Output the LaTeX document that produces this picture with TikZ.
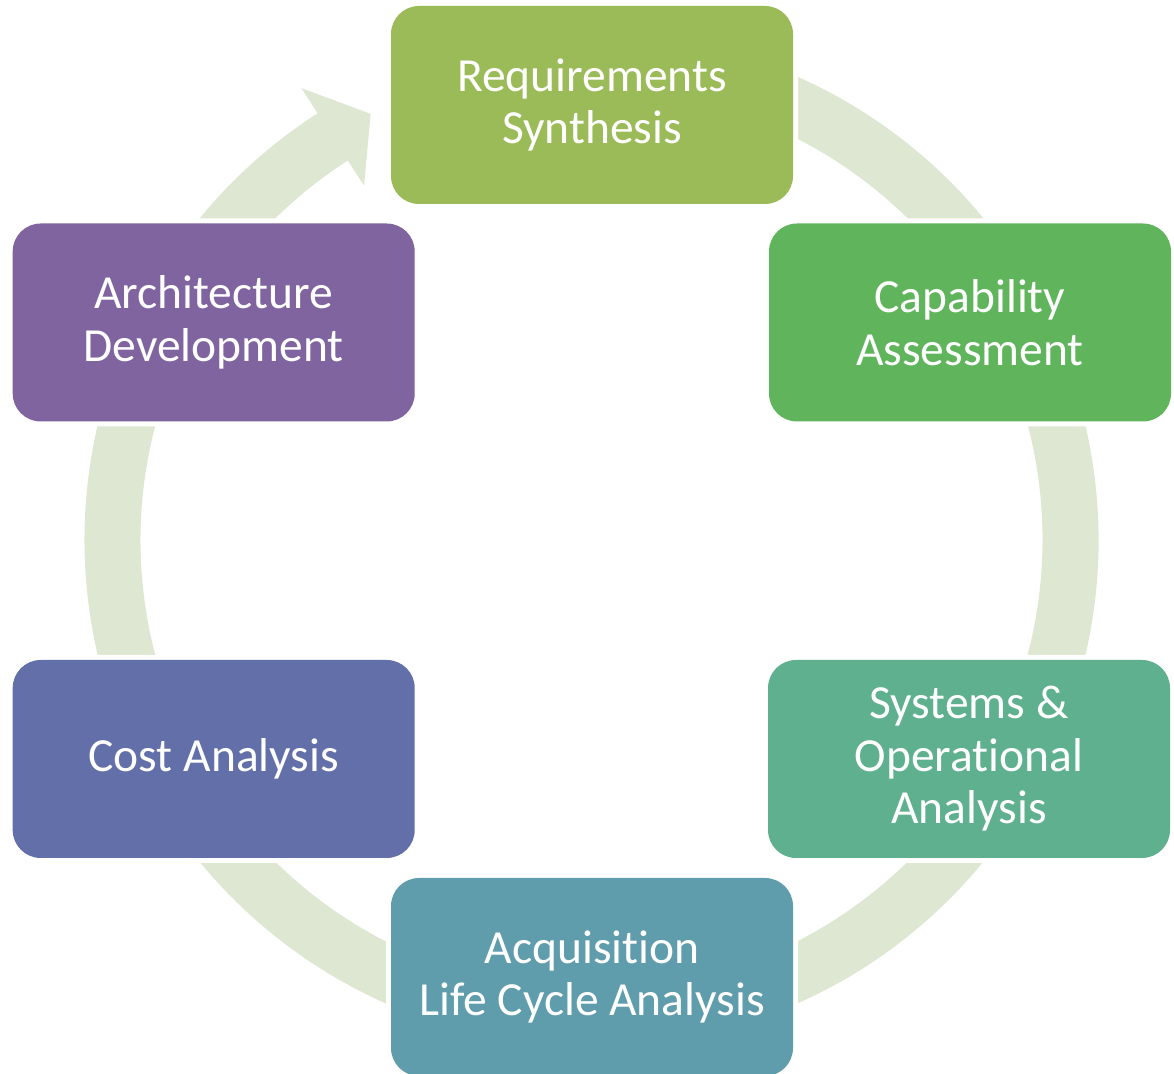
\documentclass[tikz,border=0pt]{standalone}
\usepackage{fontspec}
\setmainfont[Ligatures=NoCommon]{Carlito}
\definecolor{ringcol}{HTML}{DEE7D1}
\definecolor{reqcol}{HTML}{9BBB59}
\definecolor{capcol}{HTML}{60B55C}
\definecolor{syscol}{HTML}{5EB08E}
\definecolor{acqcol}{HTML}{5F9DAC}
\definecolor{costcol}{HTML}{626FA8}
\definecolor{archcol}{HTML}{8064A0}
\tikzset{
  stagebox/.style={rectangle, rounded corners=28pt, minimum width=402pt,
    minimum height=198pt, inner sep=0pt, outer sep=0pt,
    preaction={draw=white, line width=10pt}, fill=#1, text=white,
    align=center, font=\fontsize{47.5}{52.5}\selectfont},
  ringshape/.style={fill=ringcol}
}
\begin{document}
\begin{tikzpicture}[x=1pt,y=1pt]
\useasboundingbox (0,0) rectangle (1174,1073);
\begin{scope}[shift={(591.5,533)}]
\fill[ringshape] (100:507) arc[start angle=100,end angle=-237.3,radius=507]
  -- (-237.3:537) -- (-242.6:480) -- (-237.3:421) -- (-237.3:451)
  arc[start angle=-237.3,end angle=100,radius=451] -- cycle;
\end{scope}
\node[stagebox=reqcol]  (req)  at (592,968)   {Requirements\\Synthesis};
\node[stagebox=capcol]  (cap)  at (970,750.5) {Capability\\Assessment};
\node[stagebox=syscol]  (sys)  at (969,314)   {Systems \&\\Operational\\Analysis};
\node[stagebox=acqcol]  (acq)  at (592,96)    {Acquisition\\Life Cycle Analysis};
\node[stagebox=costcol] (cost) at (213.7,314) {Cost Analysis};
\node[stagebox=archcol] (arch) at (213.7,750.5) {Architecture\\Development};
\end{tikzpicture}
\end{document}
